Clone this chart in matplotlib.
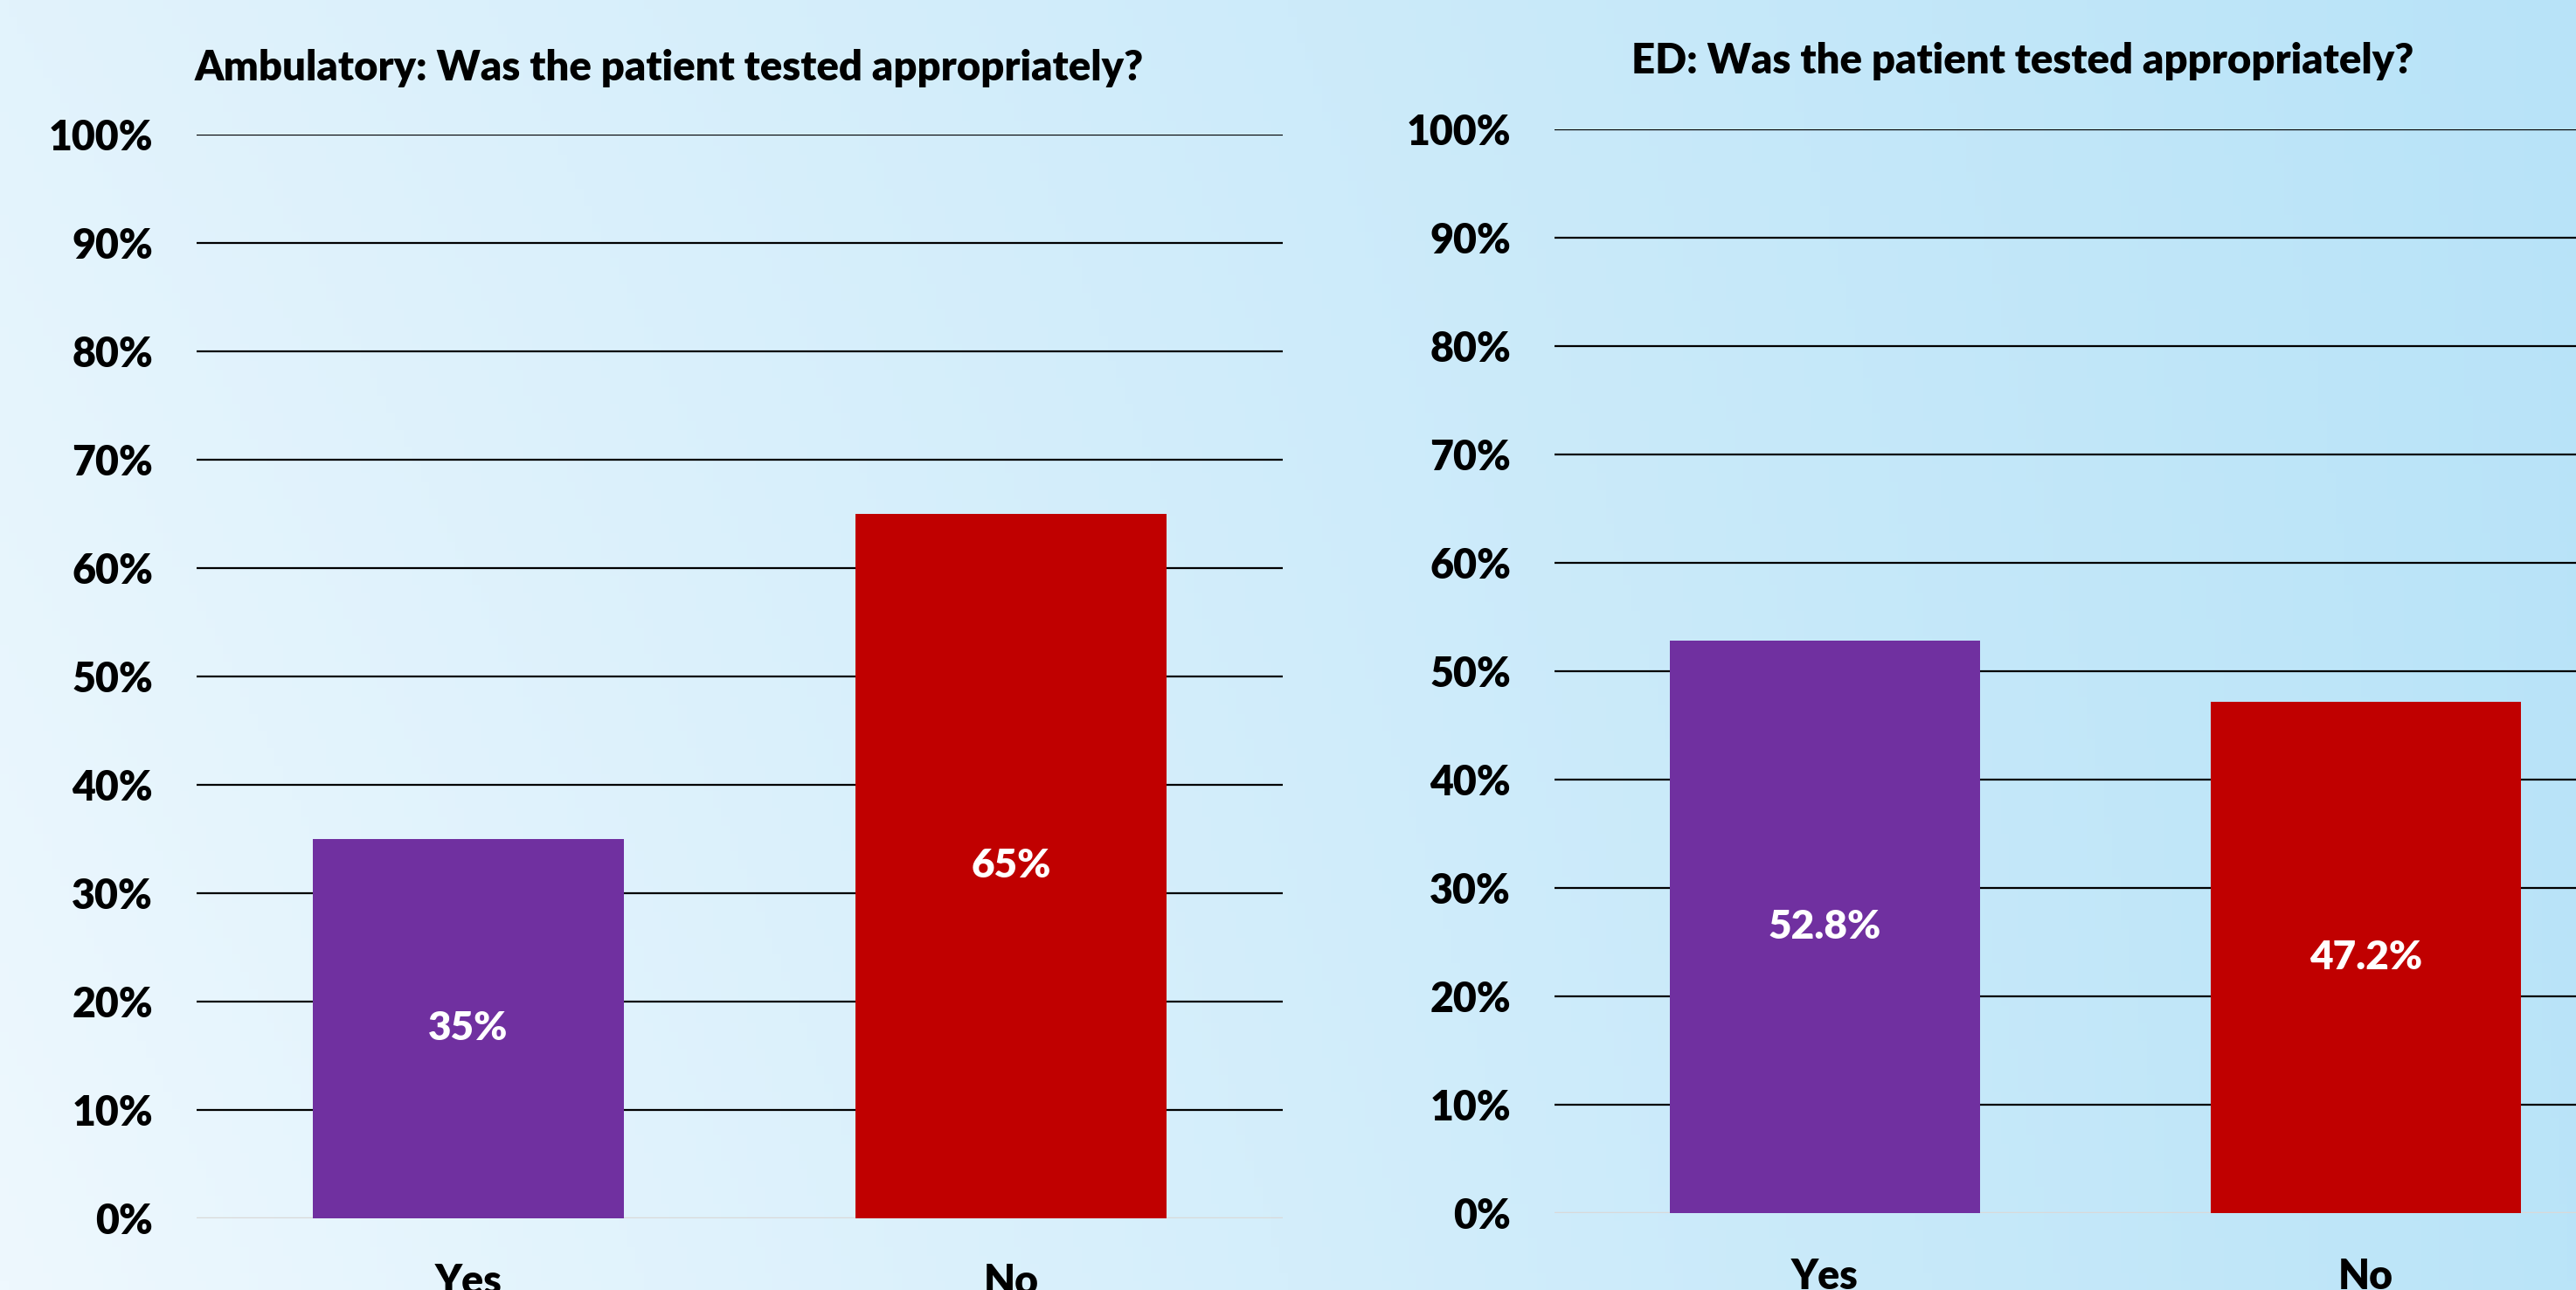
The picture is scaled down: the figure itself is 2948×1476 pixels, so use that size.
import numpy as np
import matplotlib.pyplot as plt

# data
categories = ["Yes", "No"]
ambulatory_vals = [35.0, 65.0]
ed_vals = [52.8, 47.2]
ambulatory_labels = ["35%", "65%"]
ed_labels = ["52.8%", "47.2%"]
titles = ["Ambulatory: Was the patient tested appropriately?",
          "ED: Was the patient tested appropriately?"]
bar_colors = ["#7030A0", "#C00000"]

plt.rcParams['font.family'] = ['Lato', 'DejaVu Sans']

W, H = 2948, 1476
fig = plt.figure(figsize=(W / 100, H / 100), dpi=100)

# background gradient (light left -> sky blue right)
bg = fig.add_axes([0, 0, 1, 1], zorder=-10)
xx = np.linspace(0, 1, 300)
yy = np.linspace(0, 1, 150)
X, Y = np.meshgrid(xx, yy)
tl = np.array([226, 243, 252]) / 255
tr = np.array([184, 227, 248]) / 255
bl = np.array([238, 248, 254]) / 255
br = np.array([186, 228, 248]) / 255
img = (tl[None, None, :] * ((1 - X) * (1 - Y))[..., None]
       + tr[None, None, :] * (X * (1 - Y))[..., None]
       + bl[None, None, :] * ((1 - X) * Y)[..., None]
       + br[None, None, :] * (X * Y)[..., None])
bg.imshow(img, aspect='auto', extent=[0, 1, 0, 1], origin='upper')
bg.set_axis_off()

WEIGHT = 'heavy'


def draw_panel(rect, vals, labels, title, title_x, title_y):
    ax = fig.add_axes(rect)
    ax.set_facecolor('none')
    x = np.arange(len(categories))
    bars = ax.bar(x, np.array(vals) / 100, width=0.573, color=bar_colors, zorder=3)
    for b, lab in zip(bars, labels):
        ax.text(b.get_x() + b.get_width() / 2, b.get_height() / 2, lab,
                ha='center', va='center', color='white', fontsize=33,
                fontweight=WEIGHT, zorder=4)
    ax.set_xlim(-0.5, 1.5)
    ax.set_ylim(0, 1)
    ticks = np.arange(0, 1.01, 0.1)
    ax.set_yticks(ticks)
    ax.set_yticklabels([f"{int(round(v * 100))}%" for v in ticks])
    ax.set_xticks(x)
    ax.set_xticklabels(categories)
    ax.tick_params(axis='y', length=0, pad=36, labelsize=33.5)
    ax.tick_params(axis='x', length=0, pad=37, labelsize=33.5)
    for lab in ax.get_xticklabels() + ax.get_yticklabels():
        lab.set_fontweight(WEIGHT)
    for s in ax.spines.values():
        s.set_visible(False)
    ax.set_axisbelow(True)
    ax.yaxis.grid(True, color='black', linewidth=1.6)
    ax.get_ygridlines()[0].set_visible(False)
    ax.axhline(0, color='#d9d9d9', linewidth=2.5, zorder=2)
    fig.text(title_x, title_y, title, ha='center', va='center',
             fontsize=34, fontweight=WEIGHT)
    return ax


draw_panel([225 / W, 1 - 1394 / H, 1243 / W, 1240 / H],
           ambulatory_vals, ambulatory_labels, titles[0], 766 / W, 1 - 78 / H)
draw_panel([1779 / W, 1 - 1388 / H, 1238 / W, 1240 / H],
           ed_vals, ed_labels, titles[1], 2315 / W, 1 - 70 / H)

fig.savefig("out.png", dpi=100)
